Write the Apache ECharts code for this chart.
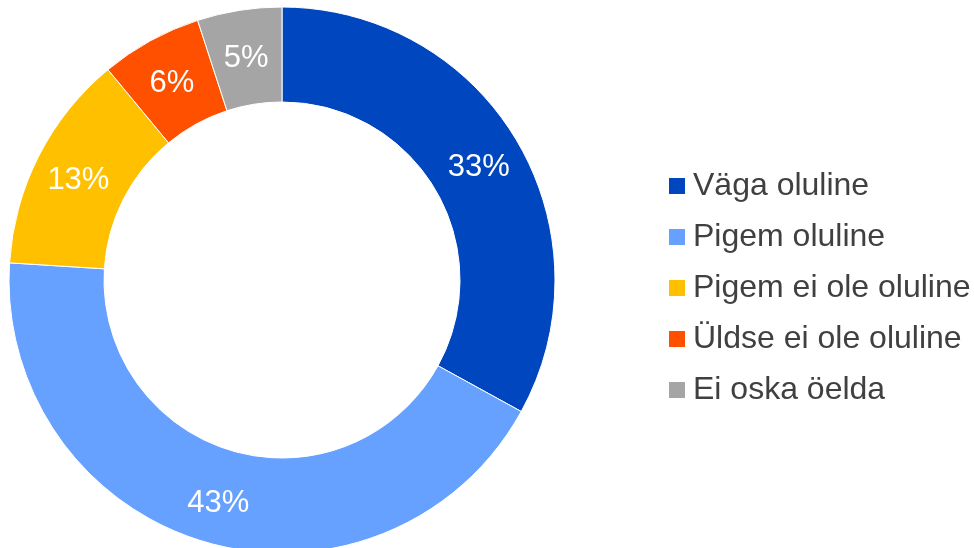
<!DOCTYPE html>
<html><head><meta charset="utf-8">
<script src="https://cdn.jsdelivr.net/npm/echarts@6/dist/echarts.min.js"></script>
<style>html,body{margin:0;padding:0;background:#fff}#c{width:974px;height:548px}</style>
</head><body><div id="c"></div>
<script>
const categories = ['Väga oluline','Pigem oluline','Pigem ei ole oluline','Üldse ei ole oluline','Ei oska öelda'];
const values = [33, 43, 13, 6, 5];
const colors = ['#0047BF','#66A1FF','#FFC000','#FF5000','#A5A5A5'];
const chart = echarts.init(document.getElementById('c'), null, {renderer:'canvas'});
chart.setOption({
  animation:false,
  color: colors,
  legend:{
    orient:'vertical', left:662, top:165,
    itemWidth:18, itemHeight:18, itemGap:19, icon:'rect',
    textStyle:{fontFamily:'Liberation Sans, Arial', fontSize:32, color:'#404040', padding:[0,0,0,2]},
    data: categories
  },
  series:[{
    type:'pie',
    center:[282,280],
    radius:[178,273],
    startAngle:90,
    clockwise:true,
    avoidLabelOverlap:false,
    itemStyle:{borderColor:'#fff', borderWidth:1},
    label:{show:true, position:'inside', formatter:'{c}%', color:'#fff', fontSize:31, fontFamily:'Liberation Sans, Arial'},
    labelLayout:{dy:4},
    labelLine:{show:false},
    data: categories.map((n,i)=>({name:n, value:values[i]}))
  }]
});
</script></body></html>
